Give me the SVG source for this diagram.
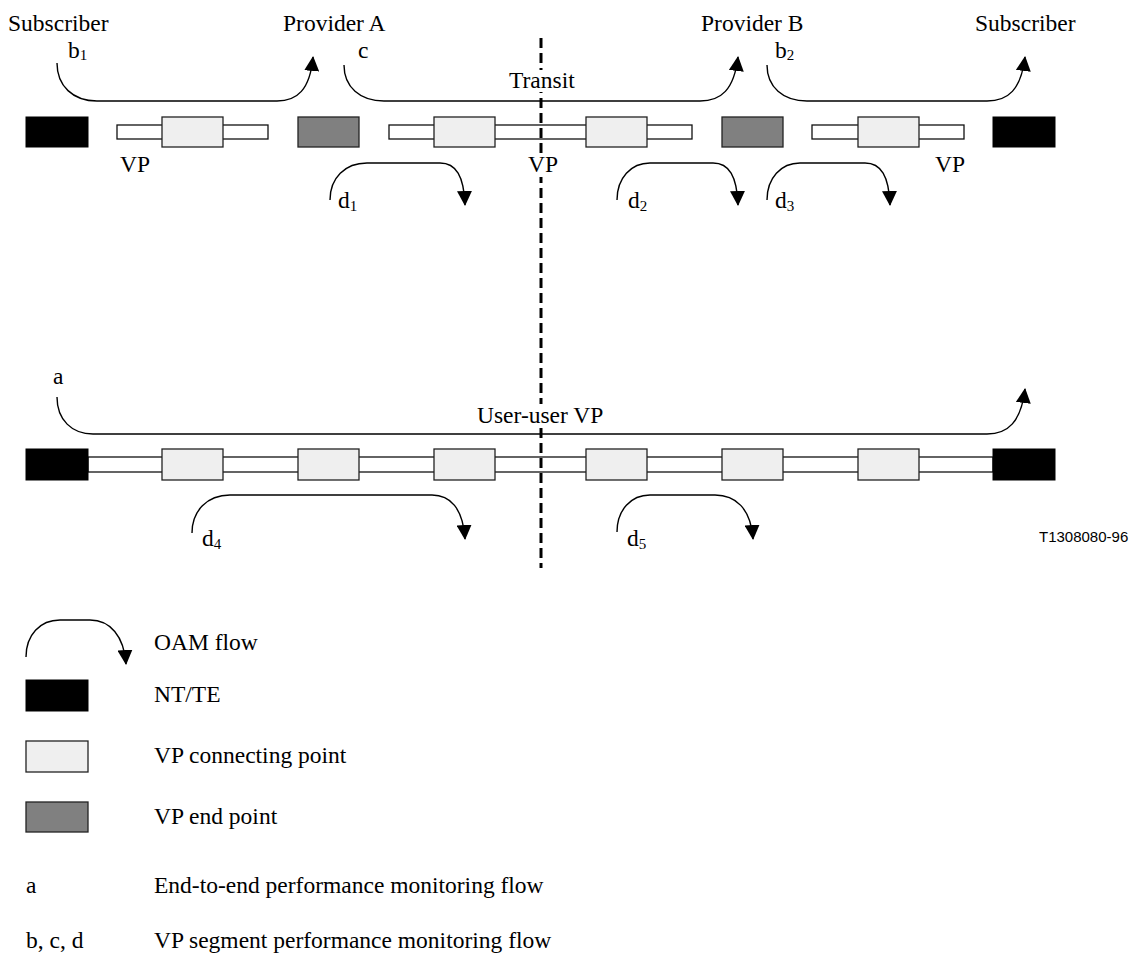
<svg xmlns="http://www.w3.org/2000/svg" width="1137" height="962" viewBox="0 0 1137 962">
<style>
  text { font-family: "Liberation Serif", "Times New Roman", serif; font-size: 23.5px; fill: #000; }
  .sub { font-size: 15px; }
  .code { font-family: "Liberation Sans", Arial, sans-serif; font-size: 15px; }
  .nt { fill: #000; stroke: #000; stroke-width: 1; }
  .cp { fill: #efefef; stroke: #222; stroke-width: 1.3; }
  .ep { fill: #808080; stroke: #222; stroke-width: 1.3; }
  .bar { fill: #fff; stroke: #111; stroke-width: 1.3; }
  .flow { fill: none; stroke: #000; stroke-width: 1.4; marker-end: url(#ah); }
  .divider { stroke: #000; stroke-width: 3; stroke-dasharray: 10 5; fill: none; }
  .bg { fill: #fff; }
</style>
<defs>
  <marker id="ah" markerUnits="userSpaceOnUse" markerWidth="15" markerHeight="15" refX="14" refY="7.5" orient="auto">
    <path d="M0,0 L15,7.5 L0,15 z" fill="#000"/>
  </marker>
</defs>
<rect width="1137" height="962" fill="#fff"/>

<!-- Top row -->
<g id="top-vp-left">
  <rect class="bar" x="117" y="125" width="151" height="14"/>
  <rect class="cp" x="162" y="117" width="61" height="30"/>
</g>
<g id="top-vp-mid">
  <rect class="bar" x="389" y="125" width="303" height="14"/>
  <rect class="cp" x="434" y="117" width="61" height="30"/>
  <rect class="cp" x="586" y="117" width="61" height="30"/>
</g>
<g id="top-vp-right">
  <rect class="bar" x="812" y="125" width="152" height="14"/>
  <rect class="cp" x="858" y="117" width="61" height="30"/>
</g>
<g id="top-nt-left"><rect class="nt" x="26" y="117" width="62" height="30"/></g>
<g id="top-ep-a"><rect class="ep" x="298" y="117" width="61" height="30"/></g>
<g id="top-ep-b"><rect class="ep" x="722" y="117" width="61" height="30"/></g>
<g id="top-nt-right"><rect class="nt" x="993" y="117" width="62" height="30"/></g>

<!-- Bottom row -->
<g id="bottom-vp">
  <rect class="bar" x="88" y="457" width="905" height="15"/>
  <rect class="cp" x="162" y="449" width="61" height="31"/>
  <rect class="cp" x="298" y="449" width="61" height="31"/>
  <rect class="cp" x="434" y="449" width="61" height="31"/>
  <rect class="cp" x="586" y="449" width="61" height="31"/>
  <rect class="cp" x="722" y="449" width="61" height="31"/>
  <rect class="cp" x="858" y="449" width="61" height="31"/>
</g>
<g id="bottom-nt-left"><rect class="nt" x="26" y="449" width="62" height="31"/></g>
<g id="bottom-nt-right"><rect class="nt" x="993" y="449" width="62" height="31"/></g>

<!-- Divider -->
<g id="divider">
  <line class="divider" x1="541" y1="38" x2="541" y2="568"/>
</g>

<!-- Connectors (OAM flows) -->
<g id="connectors">
  <path class="flow" d="M57,63 C57,86 73,101 97,101 L277,101 C297,101 310,90 313,57"/>
  <path class="flow" d="M344,65 C344,87 360,101 384,101 L700,101 C721,101 734,90 738,57"/>
  <path class="flow" d="M767,65 C767,87 783,101 807,101 L987,101 C1008,101 1021,90 1025,57"/>
  <path class="flow" d="M330,200 C330,178 345,163 367,163 L440,163 C456,163 464,176 465,205"/>
  <path class="flow" d="M617,200 C617,178 631,163 650,163 L713,163 C729,163 737,176 738,205"/>
  <path class="flow" d="M767,200 C767,178 781,163 800,163 L865,163 C881,163 889,176 890,205"/>
  <path class="flow" d="M57,397 C57,420 72,434 93,434 L987,434 C1008,434 1021,422 1025,389"/>
  <path class="flow" d="M192,533 C192,511 207,495 230,495 L432,495 C450,495 463,508 465,539"/>
  <path class="flow" d="M617,532 C617,510 631,495 650,495 L715,495 C735,495 751,508 753,539"/>
</g>

<!-- Labels -->
<g id="labels">
  <text x="8" y="31">Subscriber</text>
  <text x="283" y="31">Provider A</text>
  <text x="701" y="31">Provider B</text>
  <text x="975" y="31">Subscriber</text>
  <text x="68" y="58">b<tspan class="sub" dy="2">1</tspan></text>
  <text x="358" y="58">c</text>
  <text x="775" y="58">b<tspan class="sub" dy="2">2</tspan></text>
  <rect class="bg" x="506" y="70" width="70" height="22"/>
  <text x="509" y="88">Transit</text>
  <text x="120" y="172">VP</text>
  <rect class="bg" x="526" y="153" width="33" height="24"/>
  <text x="528" y="172">VP</text>
  <text x="935" y="172">VP</text>
  <text x="338" y="208">d<tspan class="sub" dy="3">1</tspan></text>
  <text x="628" y="208">d<tspan class="sub" dy="3">2</tspan></text>
  <text x="775" y="208">d<tspan class="sub" dy="3">3</tspan></text>
  <text x="53" y="384">a</text>
  <rect class="bg" x="474" y="404" width="136" height="24"/>
  <text x="477" y="423">User-user VP</text>
  <text x="202" y="546">d<tspan class="sub" dy="3">4</tspan></text>
  <text x="627" y="546">d<tspan class="sub" dy="3">5</tspan></text>
  <text class="code" x="1039" y="542">T1308080-96</text>
</g>

<!-- Legend -->
<g id="legend-flow">
  <path class="flow" d="M26,657 C26,635 40,620 60,620 L90,620 C110,620 124,636 126,664"/>
  <text x="154" y="650">OAM flow</text>
</g>
<g id="legend-nt">
  <rect class="nt" x="26" y="680" width="62" height="31"/>
  <text x="154" y="702">NT/TE</text>
</g>
<g id="legend-cp">
  <rect class="cp" x="26" y="741" width="62" height="31"/>
  <text x="154" y="763">VP connecting point</text>
</g>
<g id="legend-ep">
  <rect class="ep" x="26" y="802" width="62" height="30"/>
  <text x="154" y="824">VP end point</text>
</g>
<g id="legend-a">
  <text x="26" y="893">a</text>
  <text x="154" y="893">End-to-end performance monitoring flow</text>
</g>
<g id="legend-bcd">
  <text x="26" y="948">b, c, d</text>
  <text x="154" y="948">VP segment performance monitoring flow</text>
</g>
</svg>
